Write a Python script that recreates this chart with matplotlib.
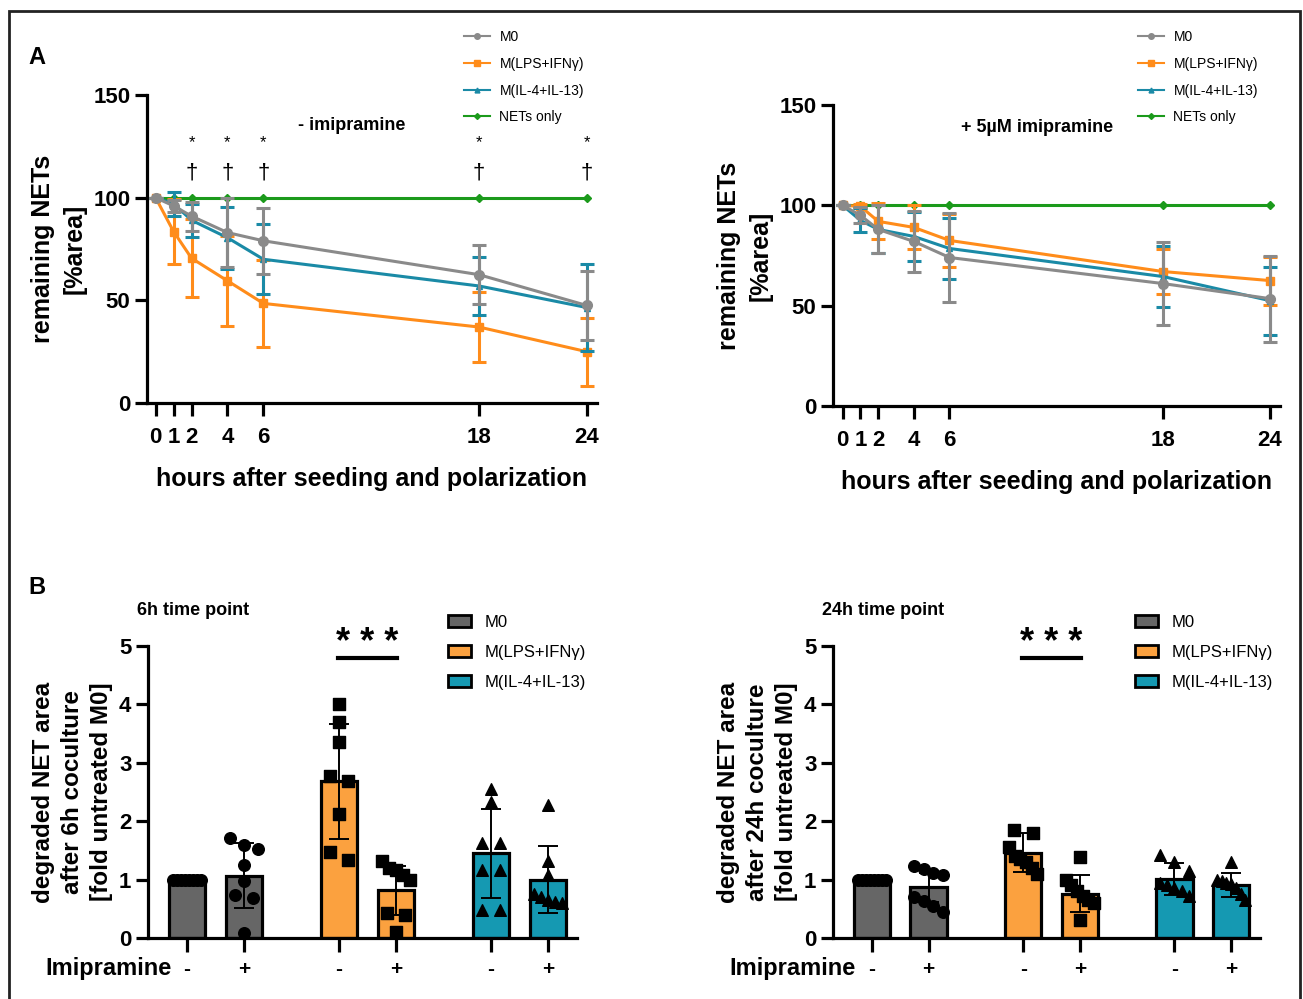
import numpy as np
import matplotlib
matplotlib.use("Agg")
from matplotlib import pyplot as plt
from matplotlib.lines import Line2D
from matplotlib.patches import Patch, Rectangle

plt.rcParams['font.family'] = ['Liberation Sans', 'DejaVu Sans']

# ---- panel A data ----
hours = [0, 1, 2, 4, 6, 18, 24]
series_names = ["M0", "M(LPS+IFNγ)", "M(IL-4+IL-13)", "NETs only"]

# - imipramine
a_m0 = [100, 96, 91, 83, 79, 62.5, 47.5]
a_m0_sd = [0, 3, 7, 17, 16, 14.5, 17]
a_lps = [100, 83.5, 70.5, 59.5, 48.5, 37, 25]
a_lps_sd = [0, 16, 19, 22, 21, 17, 16.5]
a_il4 = [100, 97, 89, 80.5, 70, 57, 46.5]
a_il4_sd = [0, 6, 8, 15, 17, 14, 21]
a_nets = [100, 100, 100, 100, 100, 100, 100]
sig_hours = [2, 4, 6, 18, 24]

# + 5uM imipramine
b_m0 = [100, 95, 88, 82, 74, 61, 53.5]
b_m0_sd = [0, 4, 12, 15, 22, 20.5, 21.5]
b_lps = [100, 99.5, 92, 89, 82.5, 67, 62.5]
b_lps_sd = [0, 1, 9, 11, 13, 11, 12]
b_il4 = [100, 92.5, 88, 84.5, 78.5, 64.5, 52.5]
b_il4_sd = [0, 6, 12, 12, 15, 15, 17]
b_nets = [100, 100, 100, 100, 100, 100, 100]

# ---- panel B data ----
treat_labels = ["-", "+", "-", "+", "-", "+"]
bar_names = ["M0", "M(LPS+IFNγ)", "M(IL-4+IL-13)"]

h6_means = [1.0, 1.07, 2.68, 0.82, 1.45, 1.0]
h6_sd = [0.0, 0.55, 0.99, 0.42, 0.76, 0.58]
h6_points = [
    [1.0, 1.0, 1.0, 1.0, 1.0, 1.0, 1.0, 1.0],
    [1.72, 1.6, 1.52, 1.25, 0.97, 0.74, 0.69, 0.09],
    [4.0, 3.7, 3.35, 2.78, 2.68, 2.12, 1.48, 1.34],
    [1.31, 1.2, 1.17, 1.08, 1.0, 0.43, 0.4, 0.1],
    [2.55, 2.33, 1.62, 1.62, 1.17, 1.17, 0.48, 0.48],
    [2.28, 1.31, 1.08, 0.75, 0.7, 0.65, 0.62, 0.6],
]

h24_means = [1.0, 0.87, 1.46, 0.76, 1.01, 0.91]
h24_sd = [0.0, 0.25, 0.33, 0.32, 0.27, 0.2]
h24_points = [
    [1.0, 1.0, 1.0, 1.0, 1.0, 1.0, 1.0, 1.0],
    [1.24, 1.19, 1.12, 1.08, 0.7, 0.64, 0.55, 0.44],
    [1.85, 1.8, 1.55, 1.4, 1.35, 1.3, 1.2, 1.1],
    [1.38, 1.0, 0.9, 0.8, 0.72, 0.65, 0.6, 0.3],
    [1.42, 1.3, 1.15, 0.95, 0.9, 0.85, 0.8, 0.72],
    [1.3, 1.0, 0.98, 0.95, 0.92, 0.85, 0.75, 0.65],
]

grey = "#8a8a8a"
orange = "#ff8c1a"
teal = "#1a8aa6"
green = "#1b9a1b"
bar_grey = "#666666"
bar_orange = "#fba13f"
bar_teal = "#1599b2"

W, H = 1303, 999
fig = plt.figure(figsize=(W / 100, H / 100), dpi=100)


def ax_px(l, t, r, b):
    return fig.add_axes([l / W, 1 - b / H, (r - l) / W, (b - t) / H])


def style_axes(ax, lw=2.3):
    for s in ["top", "right"]:
        ax.spines[s].set_visible(False)
    for s in ["left", "bottom"]:
        ax.spines[s].set_linewidth(lw)
    ax.tick_params(direction="out", length=9, width=lw, labelsize=16, pad=3)
    for lab in ax.get_xticklabels() + ax.get_yticklabels():
        lab.set_fontweight("bold")


def line_panel(ax, m0, m0sd, lps, lpssd, il4, il4sd, nets, xlim):
    ax.plot(hours, nets, color=green, lw=2.2, marker="D", ms=4, zorder=2)
    kw = dict(lw=2.2, capsize=5, elinewidth=2.2, capthick=2.2)
    ax.errorbar(hours, lps, yerr=lpssd, color=orange, marker="s", ms=6, zorder=3, **kw)
    ax.errorbar(hours, il4, yerr=il4sd, color=teal, marker="^", ms=5, zorder=4, **kw)
    ax.errorbar(hours, m0, yerr=m0sd, color=grey, marker="o", ms=7, zorder=5, **kw)
    ax.set_xlim(*xlim)
    ax.set_ylim(0, 150)
    ax.set_xticks(hours)
    ax.set_yticks([0, 50, 100, 150])
    ax.set_xlabel("hours after seeding and polarization", fontsize=18, fontweight="bold", labelpad=14)
    ax.set_ylabel("remaining NETs\n[%area]", fontsize=18, fontweight="bold", linespacing=1.4, labelpad=5)
    style_axes(ax)
    ax.tick_params(axis="x", pad=8)


ax1 = ax_px(147, 95, 597, 403)
line_panel(ax1, a_m0, a_m0_sd, a_lps, a_lps_sd, a_il4, a_il4_sd, a_nets, (-0.48, 24.57))
ax1.text(10.9, 135, "- imipramine", fontsize=13, fontweight="bold", ha="center", va="center")
for h in sig_hours:
    ax1.text(h, 127, "*", fontsize=12, ha="center", va="center")
    ax1.text(h, 112, "†", fontsize=16, ha="center", va="center")

ax2 = ax_px(833, 105, 1280, 406)
line_panel(ax2, b_m0, b_m0_sd, b_lps, b_lps_sd, b_il4, b_il4_sd, b_nets, (-0.54, 24.56))
ax2.text(10.9, 139, "+ 5µM imipramine", fontsize=13, fontweight="bold", ha="center", va="center")

line_handles = [
    Line2D([], [], color=grey, marker="o", ms=4, lw=1.5),
    Line2D([], [], color=orange, marker="s", ms=4, lw=1.5),
    Line2D([], [], color=teal, marker="^", ms=3.5, lw=1.5),
    Line2D([], [], color=green, marker="D", ms=3, lw=1.5),
]
for x0 in (464, 1138):
    fig.legend(line_handles, series_names, loc="upper left", bbox_to_anchor=(x0 / W, 1 - 30 / H),
               frameon=False, fontsize=10, handlelength=1.9, handletextpad=0.65,
               labelspacing=0.92, borderpad=0, borderaxespad=0)

# ---- panel B ----
xpos = np.array([0, 1, 2.667, 3.667, 5.333, 6.333])
bar_colors = [bar_grey, bar_grey, bar_orange, bar_orange, bar_teal, bar_teal]
point_markers = ["o", "o", "s", "s", "^", "^"]


def swarm(values, step=0.33, maxw=0.5, tol=0.16):
    vals = np.asarray(values, float)
    order = np.argsort(-vals)
    offs = np.zeros(len(vals))
    groups = [[order[0]]]
    for i in order[1:]:
        if abs(vals[groups[-1][-1]] - vals[i]) < tol:
            groups[-1].append(i)
        else:
            groups.append([i])
    for g in groups:
        n = len(g)
        if n == 1:
            continue
        st = min(step, maxw / (n - 1))
        for k, i in enumerate(g):
            offs[i] = (k - (n - 1) / 2) * st
    return offs


def bar_panel(ax, means, sds, points, ylabel, title, title_x, imip_x):
    ax.bar(xpos, means, width=0.64, color=bar_colors, edgecolor="black", linewidth=2.3, zorder=2)
    for x, pts, mk in zip(xpos, points, point_markers):
        ax.scatter(x + swarm(pts), pts, s=70, marker=mk, color="black", zorder=3, clip_on=False)
    ax.errorbar(xpos[1:], means[1:], yerr=sds[1:], fmt="none", ecolor="black", elinewidth=1.4,
                capsize=7, capthick=1.4, zorder=4)
    ax.set_xlim(-0.684, 6.84)
    ax.set_ylim(0, 5)
    ax.set_yticks([0, 1, 2, 3, 4, 5])
    ax.set_xticks(xpos)
    ax.set_xticklabels(treat_labels)
    style_axes(ax)
    ax.tick_params(axis="x", length=10, labelsize=15, pad=6)
    ax.set_ylabel(ylabel, fontsize=17.5, fontweight="bold", linespacing=1.35, labelpad=4)
    ax.text(imip_x, -0.53, "Imipramine", fontsize=17, fontweight="bold", ha="right", va="center",
            transform=ax.transData)
    ax.text(title_x, 5.6, title, fontsize=13, fontweight="bold", ha="left", va="center")
    # significance bracket LPS - vs +
    ax.plot([xpos[2] - 0.02, xpos[3] + 0.02], [4.8, 4.8], color="black", lw=3, clip_on=False)
    ax.text((xpos[2] + xpos[3]) / 2, 5.05, "* * *", fontsize=26, fontweight="bold",
            ha="center", va="center")


ax3 = ax_px(148, 646, 577, 938)
bar_panel(ax3, h6_means, h6_sd, h6_points,
          "degraded NET area\nafter 6h coculture\n[fold untreated M0]", "6h time point", -0.87, -0.27)
ax4 = ax_px(833, 646, 1260, 938)
bar_panel(ax4, h24_means, h24_sd, h24_points,
          "degraded NET area\nafter 24h coculture\n[fold untreated M0]", "24h time point", -0.87, -0.29)

patch_handles = [Patch(facecolor=c, edgecolor="black", linewidth=2) for c in (bar_grey, bar_orange, bar_teal)]
for x0 in (448, 1135):
    fig.legend(patch_handles, bar_names, loc="upper left", bbox_to_anchor=(x0 / W, 1 - 615 / H),
               frameon=False, fontsize=12, handlelength=1.4, handleheight=0.7, handletextpad=0.8,
               labelspacing=0.9, borderpad=0, borderaxespad=0)

fig.text(37 / W, 1 - 58 / H, "A", fontsize=17, fontweight="bold", ha="center", va="center")
fig.text(37 / W, 1 - 587 / H, "B", fontsize=17, fontweight="bold", ha="center", va="center")

fig.add_artist(Rectangle((9 / W, -0.02), (1300 - 9) / W, 1.02 - 11 / H, transform=fig.transFigure,
                         fill=False, lw=2, edgecolor="#222222"))

fig.savefig("out.png", dpi=100)
